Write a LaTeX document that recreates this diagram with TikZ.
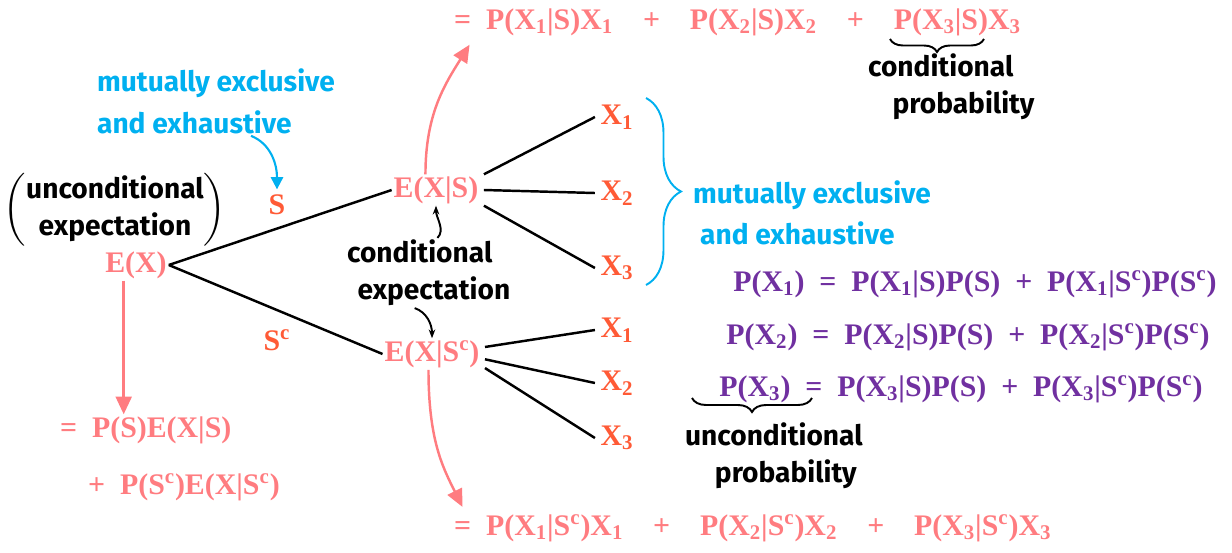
\documentclass[tikz,border=0pt]{standalone}
\usepackage{amsmath}
\usepackage[no-math]{fontspec}
\newfontfamily\handfont{Fira Sans}
\newfontfamily\eqfont{Liberation Serif}
\usetikzlibrary{arrows.meta, positioning, decorations.pathreplacing}

\definecolor{salmon}{RGB}{255,124,128}
\definecolor{tomato}{RGB}{255,90,54}
\definecolor{skyblue}{RGB}{0,176,240}
\definecolor{eqpurple}{RGB}{112,48,160}

\newcommand{\mfont}{\eqfont\bfseries\fontsize{17}{20}\selectfont}
\newcommand{\hfont}{\handfont\bfseries\fontsize{16}{21}\selectfont}
\newcommand{\ix}[1]{\textsubscript{#1}}
\newcommand{\Sc}{S\textsuperscript{c}}
\newcommand{\eqs}{\enspace=\enspace}
\newcommand{\pls}{\enspace+\enspace}
\newcommand{\wpls}{\hspace{1em}+\hspace{1em}}

\begin{document}
\begin{tikzpicture}[x=0.02cm, y=-0.02cm,
  eq/.style={text=salmon, font=\mfont, inner sep=1pt},
  xlab/.style={text=tomato, font=\mfont, inner sep=3pt},
  peq/.style={text=eqpurple, font=\mfont, inner sep=1pt},
  note/.style={font=\hfont, align=left, inner sep=1pt},
  bluenote/.style={note, text=skyblue},
  branch/.style={line width=1.4pt},
  arr/.style={-{Triangle[length=10pt, width=9pt]}, salmon, line width=1.4pt},
  barr/.style={-{Triangle[length=7pt, width=7pt]}, skyblue, line width=1.2pt},
  karr/.style={-{Stealth[length=5pt]}, line width=1.1pt},
  brc/.style={decorate, line width=1.1pt},
]

\useasboundingbox (0,0) rectangle (1232,552);

% expectations and events
\node[eq] (ex)   at (136,265) {E(X)};
\node[eq] (exs)  at (436,190) {E(X|S)};
\node[eq] (exsc) at (432,354) {E(X|\Sc)};
\node[xlab] (s)  at (277,205) {S};
\node[xlab] (sc) at (277,340) {\Sc};

\foreach \i/\y in {1/117,2/193,3/268}
  \node[xlab] (xa\i) at (617,\y) {X\ix{\i}};
\foreach \i/\y in {1/330,2/383,3/438}
  \node[xlab] (xb\i) at (617,\y) {X\ix{\i}};

% tree
\draw[branch] (ex.east) -- (exs.west);
\draw[branch] (ex.east) -- (exsc.west);
\draw[branch] ([xshift=2pt]exs.north east) -- (xa1.west);
\draw[branch] ([xshift=2pt]exs.east) -- (xa2.west);
\draw[branch] ([xshift=2pt]exs.south east) -- (xa3.west);
\draw[branch] ([xshift=2pt,yshift=4pt]exsc.east) -- (xb1.west);
\draw[branch] ([xshift=2pt,yshift=-3pt]exsc.east) -- (xb2.west);
\draw[branch] ([xshift=2pt,yshift=-8pt]exsc.east) -- (xb3.west);

% labels
\node[bluenote, anchor=west] (mel) at (95,101) {mutually exclusive\\[3pt]and exhaustive};
\node[bluenote, anchor=west] (mer) at (691,213) {mutually exclusive\\[2pt]\hspace{4pt}and exhaustive};
\node[note, align=center] (uce) at (115,210)
  {$\left(\vcenter{\hbox{\hfont\begin{tabular}{@{}c@{}}unconditional\\expectation\end{tabular}}}\right)$};
\node[note, anchor=west] (ce) at (345,273) {conditional\\\hspace{6pt}expectation};
\node[note, anchor=west] (cp) at (866,87) {conditional\\\hspace{14pt}probability};
\node[note, anchor=west] (up) at (683,456) {unconditional\\\hspace{17pt}probability};

% equations
\node[eq, anchor=west] (eqtop) at (452,22)
  {=\enspace P(X\ix{1}|S)X\ix{1}\wpls P(X\ix{2}|S)X\ix{2}\wpls P(X\ix{3}|S)X\ix{3}};
\node[eq, anchor=west] (eqbot) at (452,528)
  {=\enspace P(X\ix{1}|\Sc)X\ix{1}\wpls P(X\ix{2}|\Sc)X\ix{2}\wpls P(X\ix{3}|\Sc)X\ix{3}};
\node[eq, anchor=west] (eqa) at (58,430) {=\enspace P(S)E(X|S)};
\node[eq, anchor=west] (eqb) at (86,487) {+\enspace P(\Sc)E(X|\Sc)};

\node[peq] (p1) at (975,284) {P(X\ix{1})\eqs P(X\ix{1}|S)P(S)\pls P(X\ix{1}|\Sc)P(\Sc)};
\node[peq] (p2) at (968,337) {P(X\ix{2})\eqs P(X\ix{2}|S)P(S)\pls P(X\ix{2}|\Sc)P(\Sc)};
\node[peq] (p3) at (961,389) {P(X\ix{3})\eqs P(X\ix{3}|S)P(S)\pls P(X\ix{3}|\Sc)P(\Sc)};

% braces
\draw[brc, skyblue, decoration={brace, amplitude=0.7cm}]
  (646,98) -- (646,285);
\draw[brc, decoration={brace, amplitude=0.26cm}] (984,39) -- (890,39);
\draw[brc, decoration={brace, amplitude=0.28cm}] (812,398) -- (692,398);

% arrows
\draw[arr] ([xshift=-7pt]ex.south) -- ([xshift=-7pt]ex.south |- eqa.north);
\draw[arr] ([xshift=-6pt]exs.north) .. controls +(0,-60) and +(-25,40) .. ([xshift=10pt,yshift=-4pt]eqtop.south west);
\draw[arr] ([xshift=-2pt]exsc.south) .. controls +(0,70) and +(-20,-40) .. ([xshift=6pt,yshift=3pt]eqbot.north west);
\draw[barr] ([xshift=0.7cm]mel.south) .. controls +(20,8) and +(0,-25) .. (s.north);
\draw[karr] ([xshift=5pt]ce.north) .. controls +(8,-8) and +(0,12) .. (exs.south);
\draw[karr] ([xshift=-8pt]ce.south) .. controls +(12,4) and +(0,-14) .. (exsc.north);

\end{tikzpicture}
\end{document}
